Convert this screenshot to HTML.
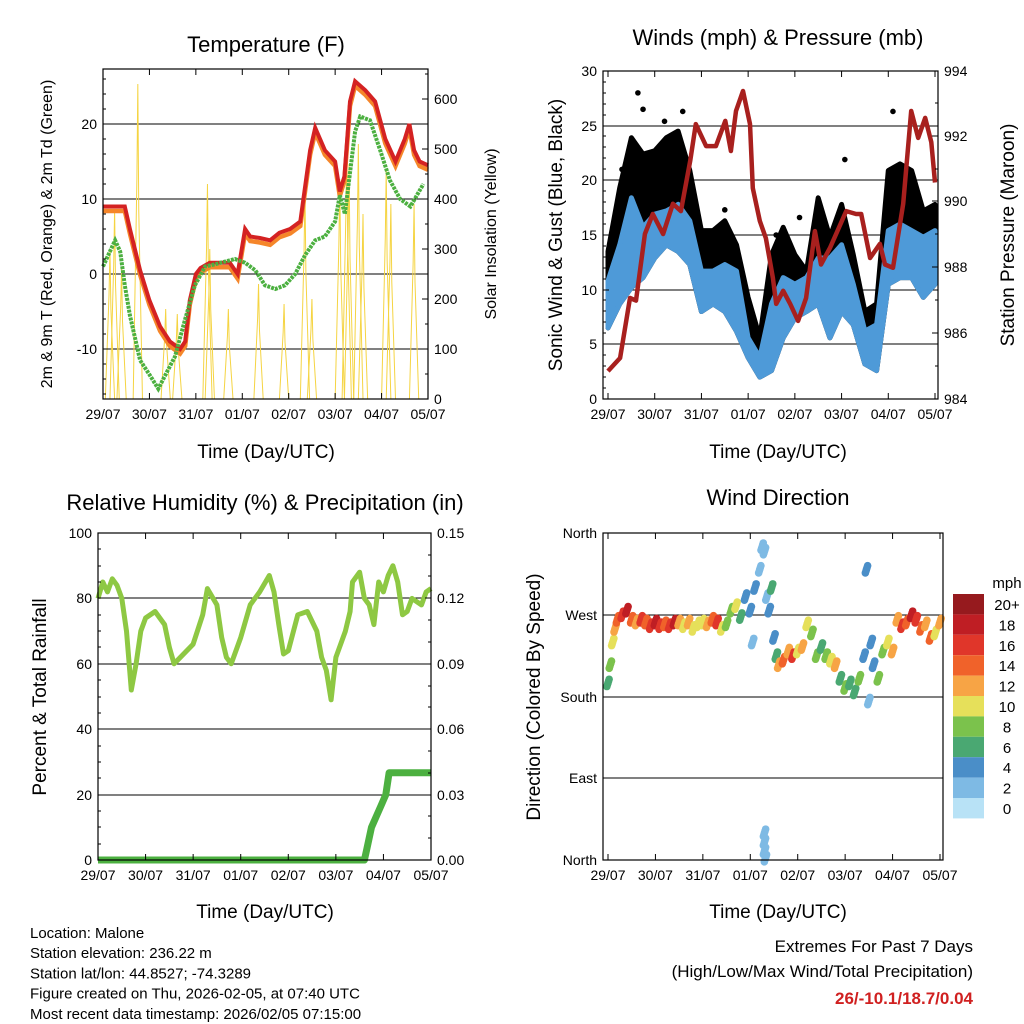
<!DOCTYPE html>
<html><head><meta charset="utf-8"><style>
body{margin:0;background:#fff;}
svg{display:block;font-family:"Liberation Sans",sans-serif;}
</style></head><body>
<svg id="root" width="1024" height="1024" viewBox="0 0 1024 1024" xmlns="http://www.w3.org/2000/svg"></svg>
<script>
// ---------- DATA ----------
const dayLabels = ["29/07","30/07","31/07","01/07","02/07","03/07","04/07","05/07"];
// Temperature (F)
const tempDays = [0,0.47,0.58,0.8,1.0,1.23,1.44,1.66,1.77,1.87,2.0,2.1,2.3,2.73,2.9,3.06,3.17,3.38,3.6,3.8,4.03,4.25,4.46,4.57,4.78,5.0,5.1,5.2,5.32,5.43,5.65,5.86,6.08,6.3,6.5,6.6,6.7,6.82,7.0];
const tempVals = [9,9,6,0.5,-3.5,-7,-9,-10,-9,-3.5,0,0.8,1.5,1.5,0,6,5,4.8,4.5,5.5,6,7,16.5,19.5,16.5,15,11,13,23,25.7,24.5,23,18,15,18,20,16.5,15,14.5];
const tdDays = [0,0.26,0.37,0.47,0.58,0.8,1.01,1.19,1.34,1.55,1.77,1.98,2.2,2.41,2.84,3.06,3.28,3.49,3.71,3.92,4.14,4.35,4.57,4.78,5.0,5.1,5.21,5.32,5.43,5.54,5.75,5.97,6.18,6.4,6.62,6.9];
const tdVals = [1,4.5,3,-1.5,-5.5,-11.5,-13.5,-15.3,-13.5,-11,-6,-1.5,1,1.3,2,1.5,0.5,-1.5,-2,-1.5,0,2.5,4.5,5,7,10.5,8,13.5,19,21,20.5,16.5,12.5,10,9,12];
const solarDays = [0.15,0.25,0.4,0.75,1.35,1.6,2.25,2.3,2.7,3.35,3.9,4.35,4.5,5.1,5.25,5.3,5.5,5.6,6.1,6.2,6.7];
const solarPeaks = [300,380,260,630,180,170,430,300,180,230,190,420,200,440,520,470,510,370,460,390,390];
// Winds
const windDays = [0,0.25,0.5,0.75,1,1.25,1.5,1.75,2,2.25,2.5,2.75,3,3.25,3.5,3.75,4,4.25,4.5,4.75,5,5.25,5.5,5.75,6,6.25,6.5,6.75,7];
const gustHi = [13.5,19.3,23.9,22.4,22.7,23.9,24.5,20.9,15.4,15.4,16.3,14.1,9.3,5.6,13.2,15.7,13.2,11.7,18.4,14.8,17.8,13.2,8,8.7,20.9,21.5,20.9,17.2,17.8];
const sonicHi = [10.8,14.1,18.4,15.7,16.9,17.2,17.8,16.3,11.7,11.7,12.3,11.7,5.6,3.8,8.7,11.1,10.5,11.1,12.9,12.9,14.1,10.5,6.2,6.8,15.4,16,15.4,14.8,15.4];
const sonicLo = [6.5,8.7,10.2,11.1,12.9,14.1,13.5,12.3,8,8.7,8,6.2,3.8,2,2.6,5.6,7.4,8,8.7,5.6,8,6.8,3.2,2.6,10.5,11.1,11.1,9.3,10.5];
const gustOutDays = [0.64,0.75,1.21,1.6,5.07,6.1,2.5,4.1,0.3,1.9,3.6];
const gustOutVals = [28,26.5,25.4,26.3,21.9,26.3,17.3,16.6,21,17,15];
const presDays = [0,0.26,0.47,0.6,0.79,0.96,1.18,1.39,1.56,1.76,1.88,2.1,2.31,2.51,2.63,2.74,2.89,3.04,3.1,3.25,3.38,3.53,3.6,3.75,3.9,4.07,4.24,4.43,4.56,4.75,5.1,5.31,5.42,5.61,5.82,5.93,6.1,6.32,6.49,6.64,6.79,6.92,7.0];
const presVals = [984.85,985.25,987.08,987.0,989.03,989.64,989.03,989.95,989.73,991.26,992.38,991.71,991.71,992.48,991.56,992.78,993.39,992.38,990.43,989.43,988.9,987.69,986.9,987.3,986.9,986.38,987.08,989.12,988.1,988.6,989.73,989.64,989.64,988.3,988.73,988.1,988.0,989.95,992.78,991.96,992.57,991.83,990.6];
// RH & precip
const rhDays = [0,0.1,0.2,0.3,0.4,0.5,0.6,0.7,0.8,0.9,1.0,1.2,1.4,1.5,1.6,1.8,2.0,2.2,2.3,2.5,2.6,2.7,2.8,3.0,3.2,3.4,3.6,3.7,3.8,3.9,4.0,4.2,4.4,4.6,4.7,4.8,4.9,5.0,5.2,5.3,5.35,5.5,5.6,5.7,5.8,5.9,6.0,6.1,6.2,6.3,6.4,6.5,6.6,6.8,6.9,7.0];
const rhVals = [80,85,82,86,84,80,70,52,60,70,74,76,72,65,60,63,66,75,83,78,68,62,60,68,78,82,87,82,72,63,64,75,76,70,62,58,49,62,70,76,85,88,80,78,72,85,82,87,90,85,75,76,80,78,82,83];
const rainDays = [0,5.6,5.65,5.75,5.85,5.95,6.05,6.12,7.0];
const rainVals = [0,0,0.005,0.015,0.02,0.025,0.03,0.04,0.04];
// Wind direction
const dirDays = [0,0.05,0.1,0.15,0.2,0.3,0.4,0.5,0.6,0.7,0.8,0.9,1.0,1.1,1.2,1.3,1.4,1.5,1.6,1.7,1.8,1.9,2.0,2.1,2.2,2.3,2.4,2.5,2.6,2.7,2.8,2.9,3.0,3.05,3.1,3.2,3.25,3.3,3.35,3.4,3.45,3.5,3.55,3.6,3.7,3.8,3.9,4.0,4.1,4.2,4.3,4.4,4.5,4.6,4.7,4.8,4.9,5.0,5.1,5.2,5.3,5.4,5.45,5.5,5.55,5.6,5.7,5.8,5.9,6.0,6.1,6.2,6.3,6.4,6.5,6.6,6.7,6.8,6.9,7.0,3.3,3.3,3.3,3.32];
const dirDeg = [195,215,240,255,265,270,275,265,262,265,262,258,262,258,260,258,262,262,258,262,255,260,262,260,265,262,255,260,275,280,268,290,275,240,300,320,345,340,290,275,300,245,225,215,220,230,225,230,235,260,250,225,235,225,220,215,200,190,195,185,200,225,320,175,240,215,200,230,240,230,265,258,262,270,265,255,260,245,250,262,30,20,10,2];
const dirSpd = [7,8,10,12,14,16,18,14,12,16,14,16,18,16,14,16,18,12,10,12,10,11,10,12,14,16,10,9,8,10,6,4,5,3,4,3,2,3,2,5,7,4,6,12,14,12,16,10,13,11,9,8,6,9,10,12,6,8,7,6,8,5,4,3,4,5,8,9,11,13,12,16,14,18,16,14,12,14,10,12,3,3,3,3];
const cbLabels = ["20+","18","16","14","12","10","8","6","4","2","0"];
const cbColors = ["#961a1e","#bf1e24","#e0362a","#f0622a","#f7a445","#e6e05a","#7bc24c","#4aa872","#4a8ec8","#7ebae4","#b8e2f6"];

// ---------- HELPERS ----------
const NS="http://www.w3.org/2000/svg";
const root=document.getElementById('root');
function el(tag,attrs,parent){const e=document.createElementNS(NS,tag);for(const k in attrs)e.setAttribute(k,attrs[k]);(parent||root).appendChild(e);return e;}
function txt(s,x,y,size,anchor,parent,extra){const t=el('text',Object.assign({x:x,y:y,'font-size':size,'text-anchor':anchor||'middle',fill:'#000'},extra||{}),parent);t.textContent=s;return t;}
function lin(d0,d1,r0,r1){return v=>r0+(v-d0)*(r1-r0)/(d1-d0);}
function pathOf(xs,ys,fx,fy){return xs.map((d,i)=>(i?'L':'M')+fx(d).toFixed(1)+','+fy(ys[i]).toFixed(1)).join('');}
function xAxis(g,fx,yb,yt){dayLabels.forEach((l,i)=>{const x=fx(i);el('line',{x1:x,y1:yb,x2:x,y2:yb-6,stroke:'#000'},g);el('line',{x1:x,y1:yt,x2:x,y2:yt+6,stroke:'#000'},g);const t=txt(l,x,yb+20,14,'middle',g);});}
function frame(g,x0,y0,x1,y1){const r=el('rect',{x:x0,y:y0,width:x1-x0,height:y1-y0,fill:'none',stroke:'#000','stroke-width':1.2},g);}
function grid(g,x0,x1,ys){ys.forEach(y=>el('line',{x1:x0,x2:x1,y1:y,y2:y,stroke:'#000','stroke-width':1},g));}
function yTicks(g,x,ys,labels,side,minor){ys.forEach((y,i)=>{el('line',{x1:x,x2:x+(side==='l'?6:-6),y1:y,y2:y,stroke:'#000'},g);const t=txt(labels[i],side==='l'?x-6:x+6,y+5,14,side==='l'?'end':'start',g);});(minor||[]).forEach(y=>el('line',{x1:x,x2:x+(side==='l'?3:-3),y1:y,y2:y,stroke:'#000'},g));}

// ---------- PANEL 1: TEMPERATURE ----------
(function(){
const g=el('g',{});
const X0=103,X1=428,Y0=69,Y1=399;
const fx=lin(0,7,X0,X1), fy=lin(0,10,274,199), fs=lin(0,100,399,349);
grid(g,X0,X1,[124,199,274,349]);
solarDays.forEach((d,i)=>{const p=el('path',{d:`M${fx(d-0.1)},${Y1}L${fx(d-0.02)},${fs(solarPeaks[i]*0.7)}L${fx(d)},${fs(solarPeaks[i])}L${fx(d+0.02)},${fs(solarPeaks[i]*0.6)}L${fx(d+0.1)},${Y1}`,fill:'none',stroke:'#f5d442','stroke-width':1},g);});
const o=el('path',{d:pathOf(tempDays,tempVals.map(v=>v-0.6),fx,fy),fill:'none',stroke:'#f5862a','stroke-width':4.5},g);
const r=el('path',{d:pathOf(tempDays,tempVals,fx,fy),fill:'none',stroke:'#d42222','stroke-width':4},g);
const gr=el('path',{d:pathOf(tdDays,tdVals,fx,fy),fill:'none',stroke:'#4cb040','stroke-width':4,'stroke-dasharray':'3,1'},g);
frame(g,X0,Y0,X1,Y1);
yTicks(g,X0,[124,199,274,349],["20","10","0","-10"],'l',[139,154,169,184,214,229,244,259,289,304,319,334,364,379,394,109,94,79]);
yTicks(g,X1,[399,349,299,249,199,149,99],["0","100","200","300","400","500","600"],'r',[374,324,274,224,174,124,74]);
xAxis(g,fx,Y1,Y0);
let t=txt("Temperature (F)",266,52,22,'middle',g);
t=txt("Time (Day/UTC)",266,458,19,'middle',g);
t=txt("2m & 9m T (Red, Orange) & 2m Td (Green)",0,0,16,'middle',g,{transform:'translate(52,234) rotate(-90)'});
t=txt("Solar Insolation (Yellow)",0,0,16,'middle',g,{transform:'translate(496,234) rotate(-90)'});
})();

// ---------- PANEL 2: WINDS ----------
(function(){
const g=el('g',{});
const X0=603,X1=938,Y0=71,Y1=399;
const fx=lin(0,7,608,935), fy=lin(0,30,399,71), fp=lin(984,994,399,71);
grid(g,X0,X1,[126,180,235,290,344]);
const band=(hi,lo,col,nm)=>{const d=pathOf(windDays,hi,fx,fy)+pathOf(windDays.slice().reverse(),lo.slice().reverse(),fx,fy).replace('M','L')+'Z';const p=el('path',{d:d,fill:col,stroke:col,'stroke-width':5,'stroke-linejoin':'round'},g);};
band(gustHi,sonicLo,'#000','gust-scatter');
band(sonicHi,sonicLo,'#4e9ad8','sonic-wind-scatter');
gustOutDays.forEach((d,i)=>{const c=el('circle',{cx:fx(d),cy:fy(gustOutVals[i]),r:2.8,fill:'#000'},g);});
const p=el('path',{d:pathOf(presDays,presVals,fx,fp),fill:'none',stroke:'#a8201e','stroke-width':4.5,'stroke-linejoin':'round'},g);
frame(g,X0,Y0,X1,Y1);
yTicks(g,X0,[399,344,290,235,180,126,71],["0","5","10","15","20","25","30"],'l',[388,377,366,355,333,322,311,300,279,268,257,246,224,213,202,191,169,158,147,136,115,104,93,82]);
yTicks(g,X1,[399,333,267,201,136,71],["984","986","988","990","992","994"],'r',[366,300,234,169,103]);
xAxis(g,fx,Y1,Y0);
let t=txt("Winds (mph) & Pressure (mb)",778,45,22,'middle',g);
t=txt("Time (Day/UTC)",778,458,19,'middle',g);
t=txt("Sonic Wind & Gust (Blue, Black)",0,0,19,'middle',g,{transform:'translate(562,235) rotate(-90)'});
t=txt("Station Pressure (Maroon)",0,0,19,'middle',g,{transform:'translate(1014,235) rotate(-90)'});
})();

// ---------- PANEL 3: RH & PRECIP ----------
(function(){
const g=el('g',{});
const X0=98,X1=431,Y0=533,Y1=860;
const fx=lin(0,7,X0,X1), fy=lin(0,100,860,533), fr=lin(0,0.15,860,533);
grid(g,X0,X1,[598,664,729,795]);
const r=el('path',{d:pathOf(rhDays,rhVals,fx,fy),fill:'none',stroke:'#8ec843','stroke-width':5,'stroke-linejoin':'round'},g);
const p=el('path',{d:pathOf(rainDays,rainVals,fx,fr),fill:'none',stroke:'#4cb040','stroke-width':7,'stroke-linejoin':'round'},g);
frame(g,X0,Y0,X1,Y1);
yTicks(g,X0,[860,795,729,664,598,533],["0","20","40","60","80","100"],'l',[844,827,811,778,762,746,713,697,680,647,631,615,582,566,549]);
yTicks(g,X1,[860,795,729,664,598,533],["0.00","0.03","0.06","0.09","0.12","0.15"],'r',[838,816,773,751,707,686,642,620,576,555]);
xAxis(g,fx,Y1,Y0);
let t=txt("Relative Humidity (%) & Precipitation (in)",265,510,22,'middle',g);
t=txt("Time (Day/UTC)",265,918,19,'middle',g);
t=txt("Percent & Total Rainfall",0,0,19,'middle',g,{transform:'translate(46,697) rotate(-90)'});
})();

// ---------- PANEL 4: WIND DIRECTION ----------
(function(){
const g=el('g',{});
const X0=603,X1=943,Y0=533,Y1=860;
const fx=lin(0,7,608,940), fy=lin(0,360,860,533);
grid(g,X0,X1,[615,697,778]);
const colorOf=s=>cbColors[10-Math.min(10,Math.floor(s/2))];
dirDays.forEach((d,i)=>{for(let k=-2;k<=2;k++){const c=el('circle',{cx:fx(d+k*0.012),cy:fy(dirDeg[i]+k*2),r:3.8,fill:colorOf(dirSpd[i])},g);}});
frame(g,X0,Y0,X1,Y1);
yTicks(g,X0,[860,778,697,615,533],["North","East","South","West","North"],'l',[]);
xAxis(g,fx,Y1,Y0);
let t=txt("Wind Direction",778,505,22,'middle',g);
t=txt("Time (Day/UTC)",778,918,19,'middle',g);
t=txt("Direction (Colored By Speed)",0,0,19,'middle',g,{transform:'translate(540,697) rotate(-90)'});
const lg=el('g',{},g);
t=txt("mph",1007,588,15,'middle',lg);
cbLabels.forEach((l,i)=>{const y=594+i*20.4;const b=el('rect',{x:953,y:y,width:31,height:20.4,fill:cbColors[i]},lg);const tt=txt(l,1007,y+16,15,'middle',lg);});
})();

// ---------- FOOTER ----------
(function(){
const g=el('g',{});
["Location: Malone","Station elevation: 236.22 m","Station lat/lon: 44.8527; -74.3289","Figure created on Thu, 2026-02-05, at 07:40 UTC","Most recent data timestamp: 2026/02/05 07:15:00"].forEach((s,i)=>{const t=txt(s,30,938+i*20.2,15,'start',g);});
const h=el('g',{});
let t=txt("Extremes For Past 7 Days",973,952,17,'end',h);
t=txt("(High/Low/Max Wind/Total Precipitation)",973,977,17,'end',h);
t=txt("26/-10.1/18.7/0.04",973,1004,17,'end',h,{fill:'#d02020','font-weight':'bold'});
})();
</script>
</body></html>
